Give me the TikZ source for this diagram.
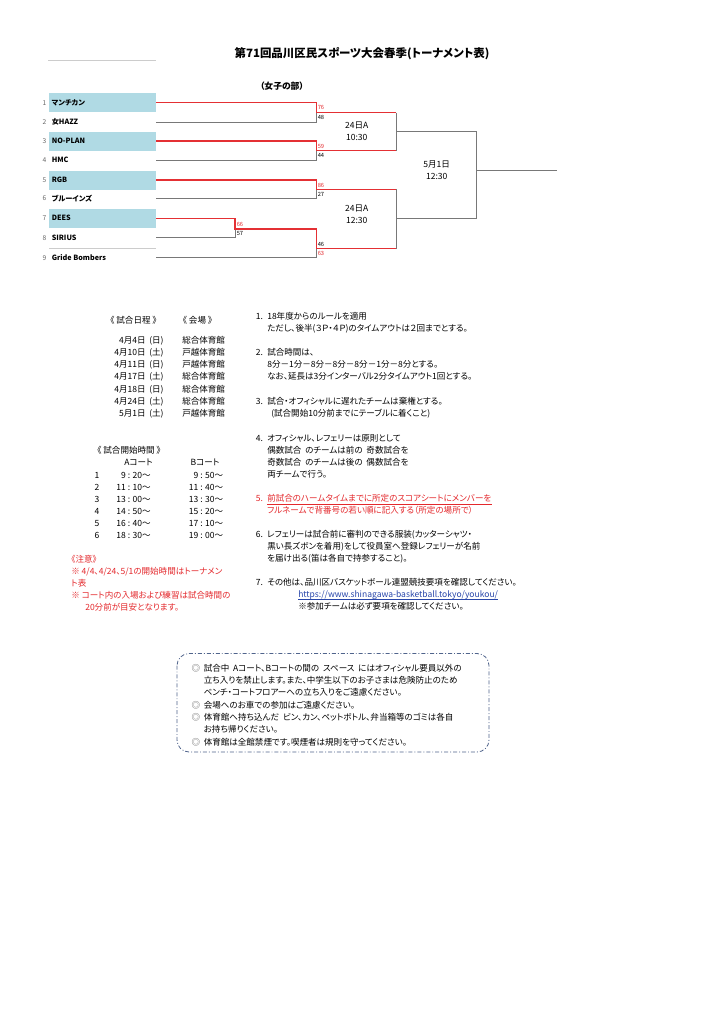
\documentclass[tikz,border=0pt]{standalone}
\usepackage{fontspec}
\setmainfont{Noto Sans CJK JP}[RawFeature={+palt}]
\definecolor{redline}{RGB}{228,48,52}
\definecolor{redtext}{RGB}{228,40,44}
\definecolor{grayline}{RGB}{120,120,120}
\definecolor{boxblue}{RGB}{176,218,228}
\definecolor{linkblue}{RGB}{40,70,170}
\definecolor{framecol}{RGB}{80,100,140}
\tikzset{
  gl/.style={draw=grayline, line width=0.6pt},
  rl/.style={draw=redline, line width=1.1pt},
  txt/.style={inner sep=0pt, anchor=base west, yshift=-2.4pt, font=\fontsize{6.4}{7}\selectfont},
  ctxt/.style={inner sep=0pt, anchor=base, yshift=-2.4pt, font=\fontsize{6.4}{7}\selectfont},
  etxt/.style={inner sep=0pt, anchor=base east, yshift=-2.4pt, font=\fontsize{6.4}{7}\selectfont},
  teamname/.style={inner sep=0pt, anchor=base west, yshift=-1.9pt, font=\fontsize{5.4}{6}\selectfont\bfseries},
  teamnum/.style={inner sep=0pt, anchor=base, yshift=-1.8pt, text=gray!80!black, font=\fontsize{5}{6}\selectfont},
  score/.style={inner sep=0pt, anchor=base west, yshift=-1.6pt, font=\fontsize{4.3}{5}\selectfont},
  rscore/.style={score, text=redtext},
}
\begin{document}
\begin{tikzpicture}[x=0.75pt,y=-0.75pt]
\useasboundingbox (0,0) rectangle (724,1024);
\fill[white] (0,0) rectangle (724,1024);

% title
\node[inner sep=0pt, anchor=base, yshift=-3.2pt, font=\fontsize{8.6}{10}\selectfont\bfseries] (title) at (362,53) {第71回品川区民スポーツ大会春季(トーナメント表)};
\node[inner sep=0pt, anchor=base, yshift=-2.5pt, font=\fontsize{6.6}{8}\selectfont\bfseries] (sub) at (282,86) {（女子の部）};
\draw[gray!40, line width=0.5pt] (48,60) -- (156,60);
\draw[gray!40, line width=0.5pt] (49,248) -- (156,248);

% team boxes
\foreach \yy in {102.7,141,180,218.3}
  \fill[boxblue] (49,\yy-9.5) rectangle (156,\yy+9.5);

% team numbers and names
\foreach \i/\yy/\nm in {1/102.7/マンチカン,2/122/女HAZZ,3/141/NO-PLAN,4/160/HMC,5/180/RGB,6/198.5/ブルーインズ,7/218.3/DEES,8/237.7/SIRIUS,9/257.7/Gride Bombers}{
  \node[teamnum] (num\i) at (44.5,\yy) {\i};
  \node[teamname] (team\i) at (51.5,\yy) {\nm};
  \coordinate (L\i) at (156,\yy);
}

% junctions
\coordinate (R1) at (235,229);
\coordinate (Q1) at (316.5,112.7);
\coordinate (Q2) at (316.5,150.7);
\coordinate (Q3) at (316.5,189.3);
\coordinate (Q4) at (316.5,248.5);
\coordinate (W1) at (396,112.7);
\coordinate (W2) at (396,150.7);
\coordinate (W3) at (396,189.3);
\coordinate (W4) at (396,248.5);
\coordinate (S1) at (396,131.7);
\coordinate (S2) at (396,218.3);
\coordinate (F1) at (476.7,131.7);
\coordinate (F2) at (476.7,218.3);
\coordinate (F0) at (476.7,170);
\coordinate (FE) at (556.7,170);

% gray connectors
\draw[gl] (L2) -| (Q1);
\draw[gl] (L4) -| (Q2);
\draw[gl] (L6) -| (Q3);
\draw[gl] (L8) -| (R1);
\draw[gl] (L9) -| (Q4);
\draw[gl] (W1) -- (W2);
\draw[gl] (W3) -- (W4);
\draw[gl] (S1) -- (F1);
\draw[gl] (S2) -- (F2);
\draw[gl] (F1) -- (F2);
\draw[gl] (F0) -- (FE);

% red connectors (winners)
\draw[rl] (L1) -| (Q1) -- (W1);
\draw[rl] (L3) -| (Q2) -- (W2);
\draw[rl] (L5) -| (Q3) -- (W3);
\draw[rl] (L7) -| (R1) -| (Q4) -- (W4);

% scores
\node[rscore] (s76) at (317.5,107.5) {76};
\node[score]  (s48) at (317.5,117.5) {48};
\node[rscore] (s59) at (317.5,146.3) {59};
\node[score]  (s44) at (317.5,155.5) {44};
\node[rscore] (s86) at (317.5,185) {86};
\node[score]  (s27) at (317.5,194) {27};
\node[score]  (s46) at (317.5,244) {46};
\node[rscore] (s63) at (317.5,253.8) {63};
\node[rscore] (s66) at (236.5,224.3) {66};
\node[score]  (s57) at (236.5,233.8) {57};

% match labels
\node[ctxt] (m1a) at (356.7,125) {24日A};
\node[ctxt] (m1b) at (356.7,137) {10:30};
\node[ctxt] (m2a) at (356.7,208) {24日A};
\node[ctxt] (m2b) at (356.7,219.8) {12:30};
\node[ctxt] (m3a) at (436.7,164.5) {5月1日};
\node[ctxt] (m3b) at (436.7,176.3) {12:30};

% schedule
\node[ctxt] (schh) at (133.5,320) {《\ 試合日程\ 》};
\node[ctxt] (venh) at (197.5,320) {《\ 会場\ 》};
\foreach \k/\yy/\dd/\ww/\vv in {1/340/4月4日/日/総合体育館,2/352.3/4月10日/土/戸越体育館,3/364.5/4月11日/日/戸越体育館,4/376.7/4月17日/土/総合体育館,5/389/4月18日/日/総合体育館,6/401/4月24日/土/総合体育館,7/413/5月1日/土/戸越体育館}{
  \node[etxt] (date\k) at (146,\yy) {\dd};
  \node[txt] (wd\k) at (149,\yy) {(\ww)};
  \node[txt] (ven\k) at (182,\yy) {\vv};
}

% start times
\node[txt] (timeh) at (97,450) {《\ 試合開始時間\ 》};
\node[ctxt] (acourt) at (138.5,462) {Aコート};
\node[ctxt] (bcourt) at (205,462) {Bコート};
\foreach \k/\yy/\aa/\bb in {1/475/9 : 20～/9 : 50～,2/487/11 : 10～/11 : 40～,3/499/13 : 00～/13 : 30～,4/511/14 : 50～/15 : 20～,5/523/16 : 40～/17 : 10～,6/535/18 : 30～/19 : 00～}{
  \node[ctxt] (tn\k) at (97,\yy) {\k};
  \node[etxt] (ta\k) at (151,\yy) {\aa};
  \node[etxt] (tb\k) at (223.5,\yy) {\bb};
}

% notes (red)
\node[txt, text=redtext] (nt0) at (71,559) {《注意》};
\node[txt, text=redtext] (nt1) at (71,571) {※ 4/4、4/24、5/1の開始時間はトーナメン};
\node[txt, text=redtext] (nt2) at (71,583) {ト表};
\node[txt, text=redtext] (nt3) at (71,595) {※ コート内の入場および練習は試合時間の};
\node[txt, text=redtext] (nt4) at (85,607) {20分前が目安となります。};

% rules
\node[txt] (r1n) at (255.5,316) {1.};
\node[txt] (r1a) at (267,316) {18年度からのルールを適用};
\node[txt] (r1b) at (267,328) {ただし、後半(３Ｐ・４Ｐ)のタイムアウトは２回までとする。};
\node[txt] (r2n) at (255.5,352) {2.};
\node[txt] (r2a) at (267,352) {試合時間は、};
\node[txt] (r2b) at (267,364) {8分－1分－8分－8分－8分－1分－8分とする。};
\node[txt] (r2c) at (267,376.5) {なお、延長は3分インターバル2分タイムアウト1回とする。};
\node[txt] (r3n) at (255.5,401) {3.};
\node[txt] (r3a) at (267,401) {試合・オフィシャルに遅れたチームは棄権とする。};
\node[txt] (r3b) at (271,413) {(試合開始10分前までにテーブルに着くこと)};
\node[txt] (r4n) at (255.5,438) {4.};
\node[txt] (r4a) at (267,438) {オフィシャル、レフェリーは原則として};
\node[txt] (r4b) at (267,450) {偶数試合\ \ のチームは前の\ \ 奇数試合を};
\node[txt] (r4c) at (267,462) {奇数試合\ \ のチームは後の\ \ 偶数試合を};
\node[txt] (r4d) at (267,474) {両チームで行う。};
\node[txt, text=redtext] (r5n) at (255.5,498) {5.};
\node[txt, text=redtext] (r5a) at (267,498) {前試合のハームタイムまでに所定のスコアシートにメンバーを};
\node[txt, text=redtext] (r5b) at (267,510) {フルネームで背番号の若い順に記入する（所定の場所で）};
\draw[redtext, line width=0.4pt] ([yshift=-1.2pt]r5a.south west) -- ([yshift=-1.2pt]r5a.south east);
\node[txt] (r6n) at (255.5,534.5) {6.};
\node[txt] (r6a) at (267,534.5) {レフェリーは試合前に審判のできる服装(カッターシャツ・};
\node[txt] (r6b) at (267,546.5) {黒い長ズボンを着用)をして役員室へ登録レフェリーが名前};
\node[txt] (r6c) at (267,558.5) {を届け出る(笛は各自で持参すること)。};
\node[txt] (r7n) at (255.5,582.5) {7.};
\node[txt] (r7a) at (267,582.5) {その他は、品川区バスケットボール連盟競技要項を確認してください。};
\node[txt, text=linkblue] (r7b) at (298,594.5) {https://www.shinagawa-basketball.tokyo/youkou/};
\draw[linkblue, line width=0.4pt] ([yshift=-1.2pt]r7b.base west) -- ([yshift=-1.2pt]r7b.base east);
\node[txt] (r7c) at (298,606.5) {※参加チームは必ず要項を確認してください。};

% notice box
\draw[framecol, line width=0.6pt, rounded corners=9pt, dash pattern=on 3pt off 1.5pt on 0.7pt off 1.5pt] (177,653.5) rectangle (489,752);
\foreach \k/\yy in {1/668.5,4/705,5/717.5,7/742}
  \node[ctxt, text=gray!70!black] (bul\k) at (196,\yy) {◎};
\node[txt] (nb1) at (203.5,668.5) {試合中\ \ Aコート、Bコートの間の\ \ スペース\ \ にはオフィシャル要員以外の};
\node[txt] (nb2) at (203.5,680.5) {立ち入りを禁止します。また、中学生以下のお子さまは危険防止のため};
\node[txt] (nb3) at (203.5,692.5) {ベンチ・コートフロアーへの立ち入りをご遠慮ください。};
\node[txt] (nb4) at (203.5,705) {会場へのお車での参加はご遠慮ください。};
\node[txt] (nb5) at (203.5,717.5) {体育館へ持ち込んだ\ \ ビン、カン、ペットボトル、弁当箱等のゴミは各自};
\node[txt] (nb6) at (203.5,729.5) {お持ち帰りください。};
\node[txt] (nb7) at (203.5,742) {体育館は全館禁煙です。喫煙者は規則を守ってください。};
\end{tikzpicture}
\end{document}
